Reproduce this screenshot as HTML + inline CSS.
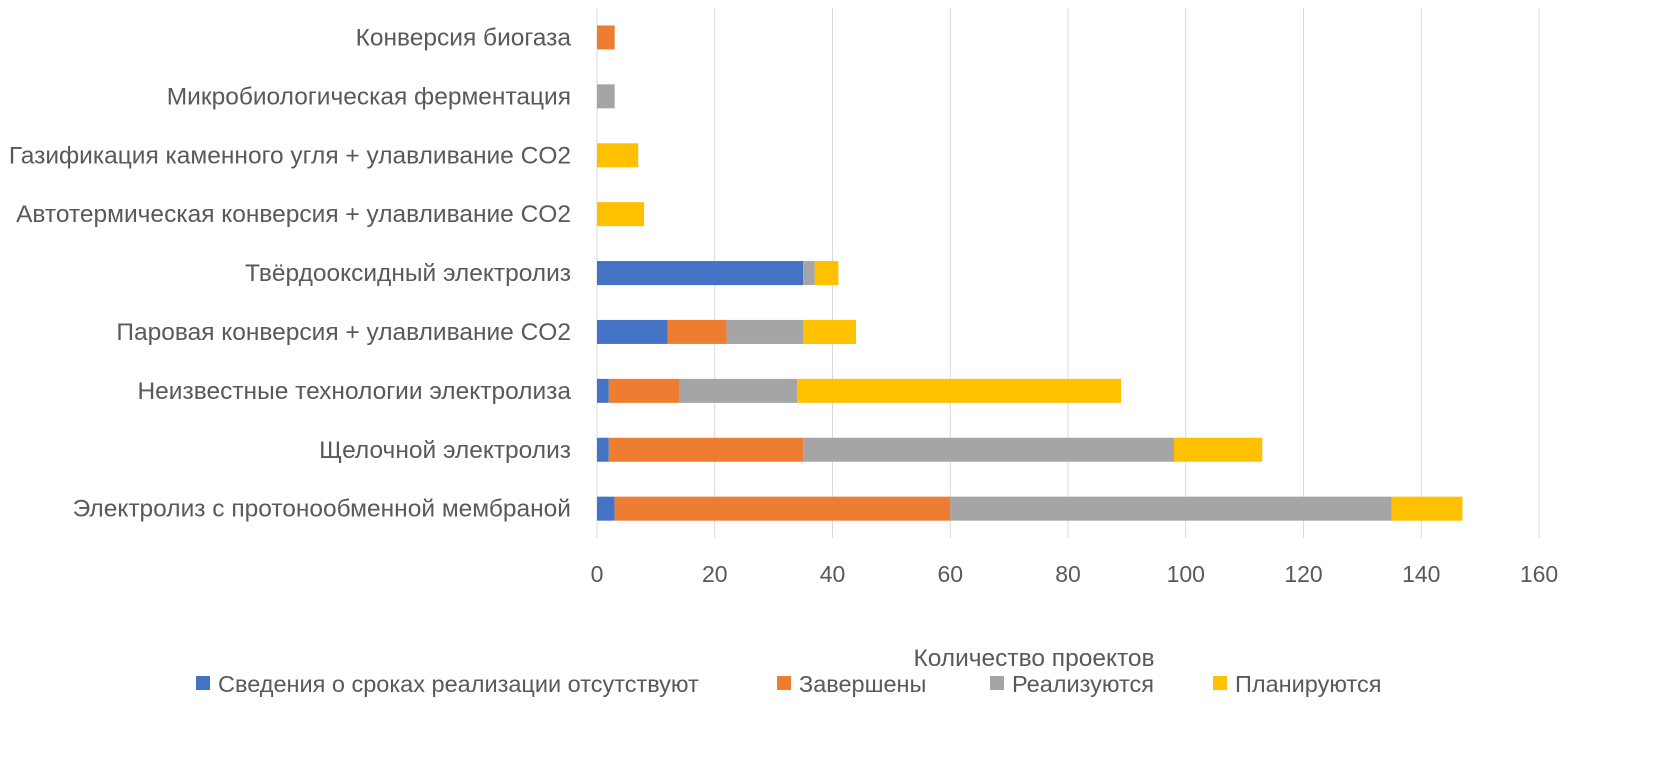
<!DOCTYPE html>
<html><head><meta charset="utf-8"><style>
html,body{margin:0;padding:0;background:#fff;}
svg{display:block;font-family:"Liberation Sans",sans-serif;}
</style></head><body>
<svg id="chart" width="1654" height="757" viewBox="0 0 1654 757"></svg>
<script>
const categories=["Конверсия биогаза","Микробиологическая ферментация","Газификация каменного угля + улавливание CO2","Автотермическая конверсия + улавливание CO2","Твёрдооксидный электролиз","Паровая конверсия + улавливание CO2","Неизвестные технологии электролиза","Щелочной электролиз","Электролиз с протонообменной мембраной"];
const seriesNames=["Сведения о сроках реализации отсутствуют","Завершены","Реализуются","Планируются"];
const seriesColors=["#4472C4","#ED7D31","#A5A5A5","#FFC000"];
const noInfo=[0,0,0,0,35,12,2,2,3];
const completed=[3,0,0,0,0,10,12,33,57];
const inProgress=[0,3,0,0,2,13,20,63,75];
const planned=[0,0,7,8,4,9,55,15,12];
const ticks=[0,20,40,60,80,100,120,140,160];
const series=[noInfo,completed,inProgress,planned];

const svg=document.getElementById('chart');
const NS='http://www.w3.org/2000/svg';
const x0=597,x1=1539,xmax=160;
const xs=v=>x0+(x1-x0)*v/xmax;
const yTop=8,step=58.9,barH=24;
const yc=i=>yTop+step*(i+0.5);
function mk(t,a){const e=document.createElementNS(NS,t);for(const k in a)e.setAttribute(k,a[k]);svg.appendChild(e);return e;}
ticks.forEach((t)=>{
 if(t>0){const g=mk('line',{x1:xs(t),x2:xs(t),y1:8,y2:538,stroke:'#D9D9D9','stroke-width':1});
 
 }
 const l=mk('text',{x:xs(t),y:582,'text-anchor':'middle','font-size':23,fill:'#595959'});
 l.textContent=t;
 
 
});
const ax=mk('line',{x1:x0,x2:x0,y1:8,y2:538,stroke:'#D9D9D9','stroke-width':1});


categories.forEach((c,i)=>{
 const t=mk('text',{x:571,y:yc(i)+8,'text-anchor':'end','font-size':24.5,fill:'#595959'});
 t.textContent=c;
 
 
 let acc=0;
 series.forEach((s,k)=>{
  const v=s[i];if(!v)return;
  const r=mk('rect',{x:xs(acc),y:yc(i)-barH/2,width:xs(acc+v)-xs(acc),height:barH,fill:seriesColors[k]});
  
  
  acc+=v;
 });
});
const at=mk('text',{x:1034,y:666,'text-anchor':'middle','font-size':24.5,fill:'#595959'});
at.textContent='Количество проектов';


const legX=[196,777,990,1213];
seriesNames.forEach((n,k)=>{
 const r=mk('rect',{x:legX[k],y:676,width:14,height:14,fill:seriesColors[k]});
 
 
 const t=mk('text',{x:legX[k]+22,y:692,'font-size':23.5,fill:'#595959'});
 t.textContent=n;
 
 
});
</script>
</body></html>
